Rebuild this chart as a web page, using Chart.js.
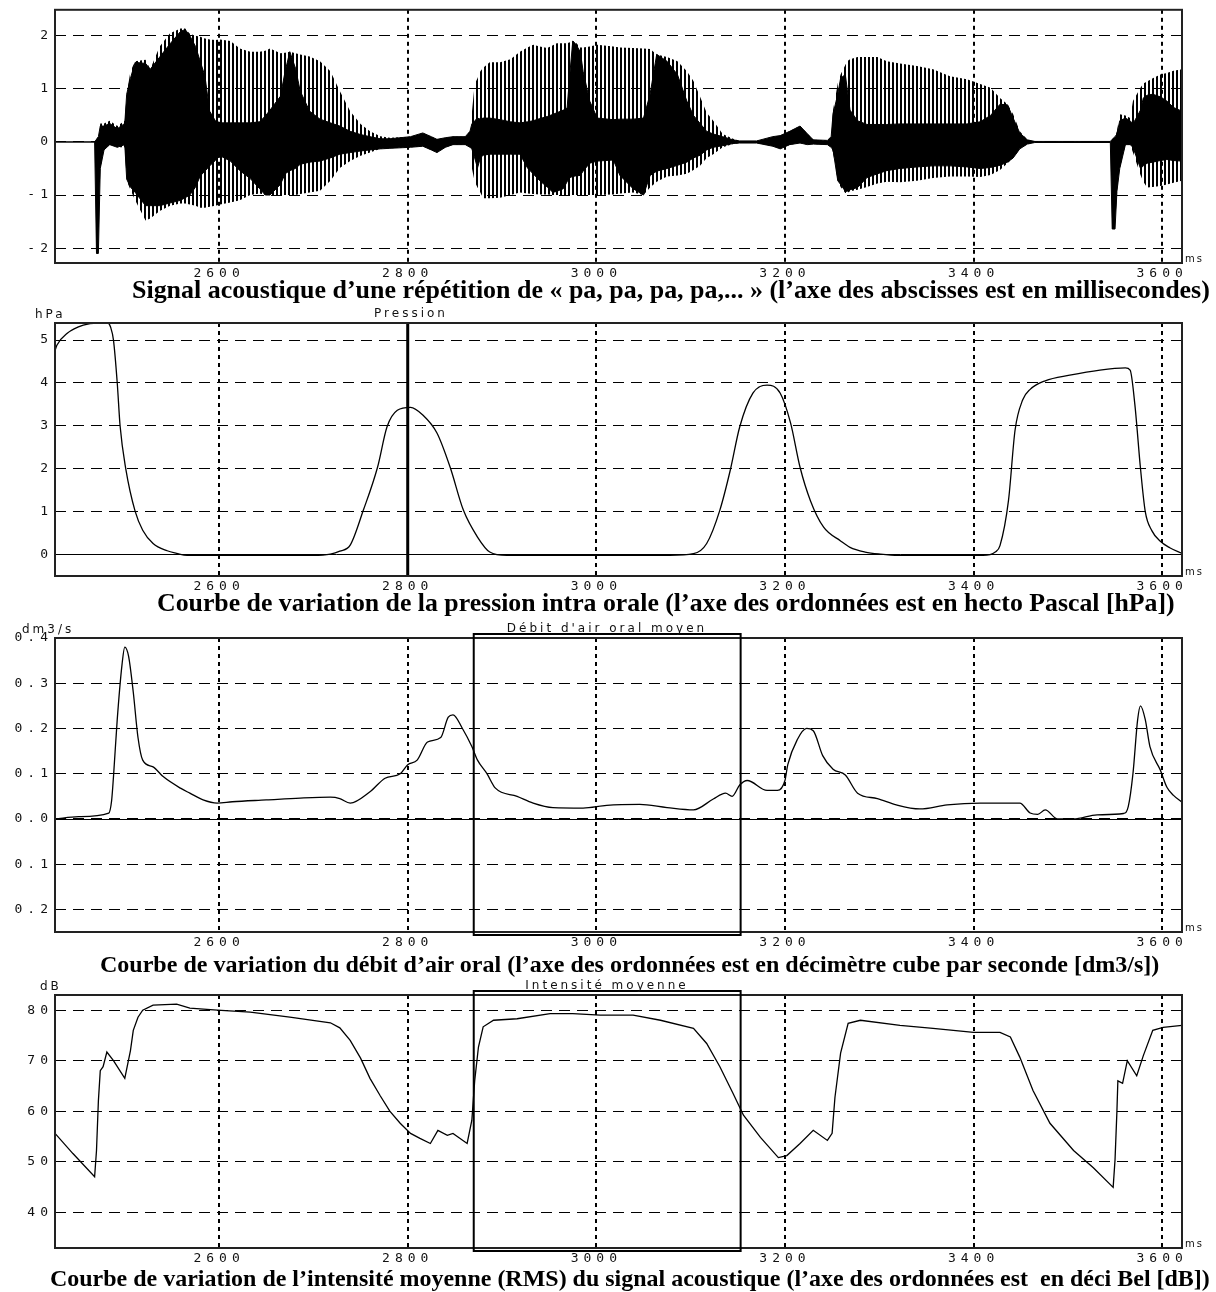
<!DOCTYPE html>
<html>
<head>
<meta charset="utf-8">
<script src="https://cdn.jsdelivr.net/npm/chart.js@4.4.1/dist/chart.umd.min.js"></script>
<style>
  body { margin: 0; background: #fff; width: 1216px; height: 1292px; position: relative; overflow: hidden; }
  canvas { position: absolute; left: 0; }
  .cap { position: absolute; font: bold 25.8px "Liberation Serif", "Times New Roman", serif; white-space: pre; color: #000; line-height: 26px; }
</style>
</head>
<body>
<canvas id="sig" width="1216" height="284" style="top:0"></canvas>
<canvas id="pres" width="1216" height="296" style="top:300px"></canvas>
<canvas id="flow" width="1216" height="337" style="top:615px"></canvas>
<canvas id="int" width="1216" height="295" style="top:973px"></canvas>

<div class="cap" data-w="1078" style="left:132px;top:277px">Signal acoustique d’une répétition de « pa, pa, pa, pa,... » (l’axe des abscisses est en millisecondes)</div>
<div class="cap" style="left:157px;top:590px">Courbe de variation de la pression intra orale (l’axe des ordonnées est en hecto Pascal [hPa])</div>
<div class="cap" data-w="1060" style="left:100px;top:951px">Courbe de variation du débit d’air oral (l’axe des ordonnées est en décimètre cube par seconde [dm3/s])</div>
<div class="cap" data-w="1160" style="left:50px;top:1265px">Courbe de variation de l’intensité moyenne (RMS) du signal acoustique (l’axe des ordonnées est  en déci Bel [dB])</div>

<script>
// time axis (ms)
const xMin = 2426, xMax = 3621;
const xTicks = [2600, 2800, 3000, 3200, 3400, 3600];

// acoustic signal: envelopes of the waveform (outer = hatched peaks, core = solid black)
const sigT      = [2426,2468,2470,2472,2474,2478,2484,2492,2500,2502,2506,2511,2522,2527,2537,2548,2559,2564,2569,2575,2580,2585,2590,2596,2601,2612,2622,2633,2643,2649,2654,2665,2670,2675,2681,2686,2696,2707,2718,2728,2739,2750,2760,2771,2781,2803,2816,2825,2831,2840,2848,2861,2866,2868,2871,2874,2877,2880,2887,2898,2909,2919,2927,2933,2940,2948,2954,2958,2965,2969,2972,2975,2978,2983,2986,2993,3001,3018,3025,3039,3050,3057,3064,3075,3086,3096,3103,3110,3117,3124,3134,3145,3152,3170,3187,3195,3205,3216,3224,3230,3245,3249,3251,3256,3259,3264,3266,3269,3277,3287,3298,3308,3322,3340,3357,3375,3393,3407,3418,3428,3436,3442,3449,3457,3465,3545,3547,3550,3552,3555,3561,3566,3569,3577,3580,3584,3590,3598,3605,3612,3621];
const sigHi     = [0,0,0.05,0.1,0.35,0.35,0.4,0.3,0.4,0.9,1.33,1.52,1.55,1.37,1.8,2.05,2.14,2.14,2.04,2.0,1.98,1.95,1.93,1.92,1.93,1.9,1.76,1.7,1.7,1.72,1.76,1.67,1.68,1.7,1.67,1.65,1.61,1.52,1.33,0.96,0.58,0.34,0.2,0.11,0.08,0.1,0.17,0.1,0.05,0.08,0.1,0.1,0.2,0.55,1.09,1.2,1.33,1.4,1.5,1.5,1.56,1.7,1.78,1.83,1.8,1.77,1.82,1.86,1.86,1.86,1.88,1.9,1.88,1.78,1.78,1.8,1.83,1.8,1.78,1.77,1.76,1.75,1.65,1.6,1.52,1.33,1.15,0.85,0.55,0.4,0.15,0.06,0.02,0.02,0.1,0.12,0.2,0.3,0.15,0.04,0.03,0.1,0.6,1.1,1.27,1.45,1.52,1.56,1.6,1.6,1.6,1.52,1.48,1.43,1.37,1.24,1.18,1.09,1.02,0.83,0.71,0.52,0.2,0.04,0.01,0.01,0.05,0.1,0.2,0.52,0.5,0.45,0.77,1.02,1.1,1.14,1.2,1.27,1.3,1.34,1.37];
const sigCoreHi = [0,0,0.05,0.1,0.3,0.3,0.35,0.25,0.35,0.9,1.2,1.5,1.48,1.37,1.6,1.85,2.08,2.12,2.0,1.8,1.52,1.24,0.58,0.4,0.36,0.36,0.36,0.36,0.38,0.49,0.6,0.86,1.33,1.7,1.39,0.96,0.58,0.43,0.36,0.3,0.2,0.14,0.1,0.06,0.06,0.1,0.17,0.1,0.05,0.08,0.1,0.1,0.2,0.34,0.4,0.45,0.43,0.45,0.45,0.42,0.38,0.36,0.38,0.4,0.44,0.48,0.52,0.55,0.6,0.64,1.3,1.9,1.85,1.7,1.33,0.77,0.45,0.42,0.43,0.43,0.45,0.9,1.65,1.52,1.27,0.77,0.5,0.35,0.2,0.15,0.1,0.04,0.02,0.02,0.1,0.12,0.2,0.3,0.15,0.04,0.03,0.1,0.53,0.9,1.2,1.27,1.0,0.6,0.4,0.33,0.33,0.33,0.34,0.34,0.34,0.34,0.34,0.38,0.5,0.71,0.7,0.45,0.17,0.04,0.01,0.01,0.05,0.1,0.15,0.4,0.45,0.4,0.34,0.6,0.83,0.88,0.9,0.85,0.77,0.65,0.58];
const sigCoreLo = [0,0,-2.1,-2.1,-0.5,-0.15,-0.05,-0.1,-0.05,-0.7,-0.85,-0.95,-1.2,-1.2,-1.2,-1.15,-1.1,-1.05,-1.0,-0.85,-0.64,-0.55,-0.45,-0.35,-0.26,-0.36,-0.54,-0.69,-0.88,-1.0,-1.0,-0.8,-0.6,-0.54,-0.5,-0.42,-0.38,-0.36,-0.3,-0.23,-0.2,-0.17,-0.15,-0.13,-0.12,-0.1,-0.08,-0.15,-0.2,-0.1,-0.05,-0.05,-0.1,-0.13,-0.3,-0.49,-0.3,-0.25,-0.23,-0.23,-0.23,-0.23,-0.49,-0.6,-0.73,-0.85,-0.95,-0.93,-0.88,-0.75,-0.67,-0.65,-0.64,-0.63,-0.55,-0.4,-0.36,-0.34,-0.63,-0.88,-1.0,-0.63,-0.55,-0.5,-0.44,-0.38,-0.3,-0.25,-0.15,-0.1,-0.07,-0.03,-0.02,-0.02,-0.08,-0.13,-0.05,-0.02,-0.05,-0.04,-0.05,-0.1,-0.15,-0.73,-0.8,-0.93,-0.93,-0.9,-0.86,-0.67,-0.6,-0.54,-0.5,-0.47,-0.45,-0.45,-0.47,-0.5,-0.48,-0.44,-0.38,-0.3,-0.13,-0.04,-0.01,-0.01,-1.64,-1.64,-0.93,-0.5,-0.05,-0.05,-0.1,-0.5,-0.45,-0.4,-0.38,-0.35,-0.33,-0.35,-0.36];
const sigLo     = [0,0,-2.1,-2.1,-0.5,-0.15,-0.05,-0.1,-0.1,-0.73,-0.9,-1.1,-1.48,-1.44,-1.3,-1.2,-1.16,-1.16,-1.18,-1.2,-1.24,-1.24,-1.22,-1.2,-1.18,-1.14,-1.1,-1.0,-0.97,-1.0,-1.0,-1.0,-1.0,-1.0,-1.0,-0.98,-0.95,-0.92,-0.73,-0.49,-0.36,-0.26,-0.2,-0.13,-0.12,-0.1,-0.08,-0.15,-0.2,-0.1,-0.05,-0.05,-0.1,-0.49,-0.75,-0.86,-0.95,-1.06,-1.06,-1.05,-1.0,-0.95,-0.97,-0.98,-0.99,-0.99,-1.0,-1.0,-1.0,-1.0,-1.0,-1.0,-1.0,-1.0,-1.0,-1.0,-1.0,-0.99,-0.97,-0.95,-1.0,-0.86,-0.75,-0.65,-0.63,-0.6,-0.53,-0.45,-0.3,-0.23,-0.1,-0.04,-0.02,-0.02,-0.08,-0.13,-0.05,-0.02,-0.05,-0.04,-0.05,-0.1,-0.2,-0.73,-0.85,-0.96,-0.96,-0.93,-0.9,-0.85,-0.78,-0.75,-0.76,-0.73,-0.68,-0.65,-0.65,-0.66,-0.62,-0.53,-0.4,-0.3,-0.13,-0.04,-0.01,-0.01,-1.64,-1.64,-0.93,-0.5,-0.05,-0.05,-0.2,-0.62,-0.75,-0.86,-0.85,-0.83,-0.8,-0.77,-0.73];
const sigTicks = [-2, -1, 0, 1, 2];

// intra-oral pressure (hPa)
const presT = [2426,2428,2439,2456,2471,2482,2485,2488,2492,2495,2501,2511,2519,2530,2545,2555,2566,2700,2718,2728,2739,2753,2768,2778,2789,2803,2816,2831,2845,2859,2874,2887,2905,3078,3103,3117,3131,3142,3152,3166,3181,3195,3206,3216,3227,3241,3259,3269,3285,3301,3320,3410,3423,3428,3437,3444,3452,3460,3476,3502,3534,3561,3566,3571,3577,3582,3589,3598,3608,3621];
const presV = [4.75,4.88,5.16,5.35,5.4,5.4,5.3,5.0,4.0,3.0,2.0,1.0,0.56,0.25,0.08,0.02,-0.03,-0.03,0.0,0.07,0.21,1.03,2.03,2.97,3.36,3.43,3.25,2.83,2.03,1.03,0.4,0.05,-0.03,-0.03,0.01,0.25,1.03,1.96,2.97,3.76,3.95,3.76,3.06,2.03,1.25,0.63,0.31,0.16,0.05,0.0,-0.03,-0.03,0.05,0.2,1.25,2.9,3.6,3.85,4.05,4.18,4.3,4.35,4.3,3.5,2.0,1.0,0.55,0.3,0.15,0.02];
const presTicks = [0, 1, 2, 3, 4, 5];
const presCursor = 2800;

// oral airflow (dm3/s)
const flowT = [2426,2451,2483,2486,2488,2492,2497,2500,2504,2509,2514,2519,2530,2541,2559,2569,2583,2598,2614,2650,2686,2718,2728,2739,2760,2776,2792,2800,2810,2821,2835,2843,2848,2858,2868,2874,2884,2893,2916,2933,2954,2986,3011,3046,3075,3103,3124,3137,3144,3152,3160,3181,3192,3200,3203,3213,3223,3230,3240,3251,3264,3277,3298,3318,3343,3372,3407,3449,3460,3468,3476,3489,3506,3531,3559,3564,3569,3574,3577,3582,3587,3598,3605,3612,3621];
const flowV = [0.0,0.005,0.013,0.04,0.093,0.22,0.34,0.38,0.36,0.28,0.18,0.13,0.115,0.093,0.068,0.057,0.042,0.035,0.038,0.042,0.046,0.048,0.045,0.035,0.06,0.09,0.1,0.12,0.13,0.17,0.18,0.225,0.23,0.2,0.16,0.13,0.1,0.068,0.05,0.035,0.025,0.024,0.03,0.032,0.025,0.02,0.044,0.057,0.05,0.075,0.085,0.063,0.063,0.085,0.12,0.175,0.2,0.195,0.14,0.11,0.097,0.057,0.045,0.031,0.022,0.031,0.035,0.035,0.013,0.01,0.02,0.0,0.0,0.009,0.012,0.027,0.1,0.22,0.25,0.22,0.16,0.108,0.07,0.052,0.037];
const flowTicks = [-0.2, -0.1, 0, 0.1, 0.2, 0.3, 0.4];

// mean intensity (dB)
const intT = [2426,2445,2468,2470,2472,2474,2477,2481,2488,2500,2506,2509,2514,2519,2530,2555,2569,2598,2633,2675,2718,2728,2739,2750,2760,2771,2781,2792,2803,2813,2824,2832,2842,2848,2863,2868,2871,2875,2880,2891,2916,2951,2975,3004,3039,3068,3103,3117,3131,3145,3156,3174,3193,3202,3216,3230,3245,3250,3253,3259,3267,3280,3322,3357,3400,3428,3439,3449,3463,3481,3506,3527,3548,3550,3552,3553,3558,3563,3573,3580,3590,3601,3621];
const intV = [55.6,51.6,47.0,52.2,62,68,68.8,71.7,70,66.5,72,76,78.6,80.0,81,81.2,80.4,80,79.6,78.6,77.5,76.5,74,70.5,66.5,63,60,57.6,55.6,54.6,53.6,56.2,55.2,55.6,53.6,58.2,66,72.7,76.7,78,78.3,79.3,79.3,79,79,78,76.4,73.4,68.8,63.5,59.2,54.8,50.8,51.2,53.6,56.2,54.2,55.6,62.7,71.5,77.4,78,77,76.4,75.6,75.6,74.7,70.7,64.1,57.6,52.2,48.8,44.9,50.4,60,66,65.5,70,67,71,76,76.6,77];
const intTicks = [40, 50, 60, 70, 80];

// selection box drawn on the airflow and intensity panels
const boxStart = 2870, boxEnd = 3153;

// fit each caption to the width it takes in the reference
document.querySelectorAll('.cap[data-w]').forEach(el => {
    const w = el.getBoundingClientRect().width;
    el.style.fontSize = (25.8 * el.dataset.w / w).toFixed(2) + 'px';
});

const pts = (ts, vs) => ts.map((t, i) => ({ x: t, y: vs[i] }));

const tickFont = { family: 'DejaVu Sans Mono', size: 13 };
const smallFont = '12px "DejaVu Sans"';

function hatchPattern() {
    const c = document.createElement('canvas');
    c.width = 4; c.height = 4;
    const g = c.getContext('2d');
    g.fillStyle = '#000';
    g.fillRect(0, 0, 2, 4);
    return g.createPattern(c, 'repeat');
}

// frame, zero line, box, titles and unit labels
const deco = {
    id: 'deco',
    beforeDraw(chart) {
        chart.ctx.letterSpacing = '5px';
    },
    beforeDatasetsDraw(chart, args, o) {
        if (!o.zero) return;
        const { ctx, chartArea: a, scales } = chart;
        const y = Math.round(scales.y.getPixelForValue(0)) + 0.5;
        ctx.save();
        ctx.strokeStyle = '#000';
        ctx.lineWidth = 1;
        ctx.setLineDash([]);
        ctx.beginPath(); ctx.moveTo(a.left, y); ctx.lineTo(a.right, y); ctx.stroke();
        ctx.restore();
    },
    afterDatasetsDraw(chart, args, o) {
        const { ctx, chartArea: a, scales } = chart;
        ctx.save();
        ctx.setLineDash([]);
        ctx.strokeStyle = '#222';
        ctx.lineWidth = 2;
        ctx.strokeRect(a.left, a.top, a.right - a.left, a.bottom - a.top);
        if (o.box) {
            const x1 = scales.x.getPixelForValue(boxStart);
            const x2 = scales.x.getPixelForValue(boxEnd);
            ctx.strokeStyle = '#000';
            ctx.strokeRect(x1, a.top - 4, x2 - x1, a.bottom - a.top + 7);
        }
        ctx.fillStyle = '#111';
        ctx.letterSpacing = '3px';
        ctx.font = smallFont;
        ctx.textBaseline = 'middle';
        if (o.title) {
            ctx.textAlign = 'center';
            ctx.fillText(o.title, o.titleX, a.top - 9);
        }
        if (o.unit) {
            ctx.textAlign = 'left';
            ctx.fillText(o.unit, o.unitX, a.top - 8);
        }
        ctx.font = '10px "DejaVu Sans"';
        ctx.letterSpacing = '2px';
        ctx.textAlign = 'left';
        ctx.fillText('ms', a.right + 3, a.bottom - 4);
        ctx.restore();
    }
};

function panel(id, datasets, o) {
    return new Chart(document.getElementById(id), {
        type: 'line',
        data: { datasets },
        plugins: [deco],
        options: {
            responsive: false,
            animation: false,
            layout: { padding: { top: o.padTop, right: 34, left: 0, bottom: 0 } },
            elements: { point: { radius: 0 } },
            plugins: {
                legend: { display: false },
                tooltip: { enabled: false },
                deco: o.deco
            },
            scales: {
                x: {
                    type: 'linear', min: xMin, max: xMax,
                    afterBuildTicks: s => { s.ticks = xTicks.map(v => ({ value: v })); },
                    afterFit: s => { s.height = o.axisH; },
                    grid: { color: '#000', lineWidth: 2, drawTicks: false },
                    border: { display: false, dash: [4, 4] },
                    ticks: { font: tickFont, color: '#111', padding: 3, maxRotation: 0, autoSkip: false, callback: v => String(v) }
                },
                y: {
                    min: o.yMin, max: o.yMax,
                    afterBuildTicks: s => { s.ticks = o.yTicks.map(v => ({ value: v })); },
                    afterFit: s => { s.width = 55; },
                    grid: { color: '#000', lineWidth: 1, drawTicks: false },
                    border: { display: false, dash: [11, 7] },
                    ticks: { font: tickFont, color: '#111', padding: 2, autoSkip: false, callback: o.fmt || (v => String(v)) }
                }
            }
        }
    });
}

const lineStyle = { borderColor: '#000', borderWidth: 1.3, fill: false, pointRadius: 0 };

panel('sig', [
    { data: pts(sigT, sigCoreHi), borderColor: '#000', borderWidth: 1, backgroundColor: '#000', fill: '+1', pointRadius: 0 },
    { data: pts(sigT, sigCoreLo), borderColor: '#000', borderWidth: 1, fill: false, pointRadius: 0 },
    { data: pts(sigT, sigHi), borderColor: 'rgba(0,0,0,0)', backgroundColor: hatchPattern(), fill: '+1', pointRadius: 0 },
    { data: pts(sigT, sigLo), borderColor: 'rgba(0,0,0,0)', fill: false, pointRadius: 0 }
], { padTop: 9, axisH: 21, yMin: -2.28, yMax: 2.49, yTicks: sigTicks, deco: {} });

panel('pres', [
    { data: pts(presT, presV), ...lineStyle, cubicInterpolationMode: 'monotone' },
    { data: [{ x: presCursor, y: -0.51 }, { x: presCursor, y: 5.4 }], borderColor: '#000', borderWidth: 3, pointRadius: 0 }
], { padTop: 23, axisH: 20, yMin: -0.51, yMax: 5.4, yTicks: presTicks,
     deco: { zero: true, title: 'Pression', titleX: 411, unit: 'hPa', unitX: 35 } });

panel('flow', [
    { data: pts(flowT, flowV), ...lineStyle, cubicInterpolationMode: 'monotone' }
], { padTop: 23, axisH: 20, yMin: -0.25, yMax: 0.4, yTicks: flowTicks, fmt: v => Math.abs(v).toFixed(1),
     deco: { zero: true, box: true, title: 'Débit d\'air oral moyen', titleX: 607, unit: 'dm3/s', unitX: 22 } });

panel('int', [
    { data: pts(intT, intV), ...lineStyle }
], { padTop: 22, axisH: 20, yMin: 32.9, yMax: 83, yTicks: intTicks,
     deco: { box: true, title: 'Intensité moyenne', titleX: 607, unit: 'dB', unitX: 40 } });
</script>
</body>
</html>
